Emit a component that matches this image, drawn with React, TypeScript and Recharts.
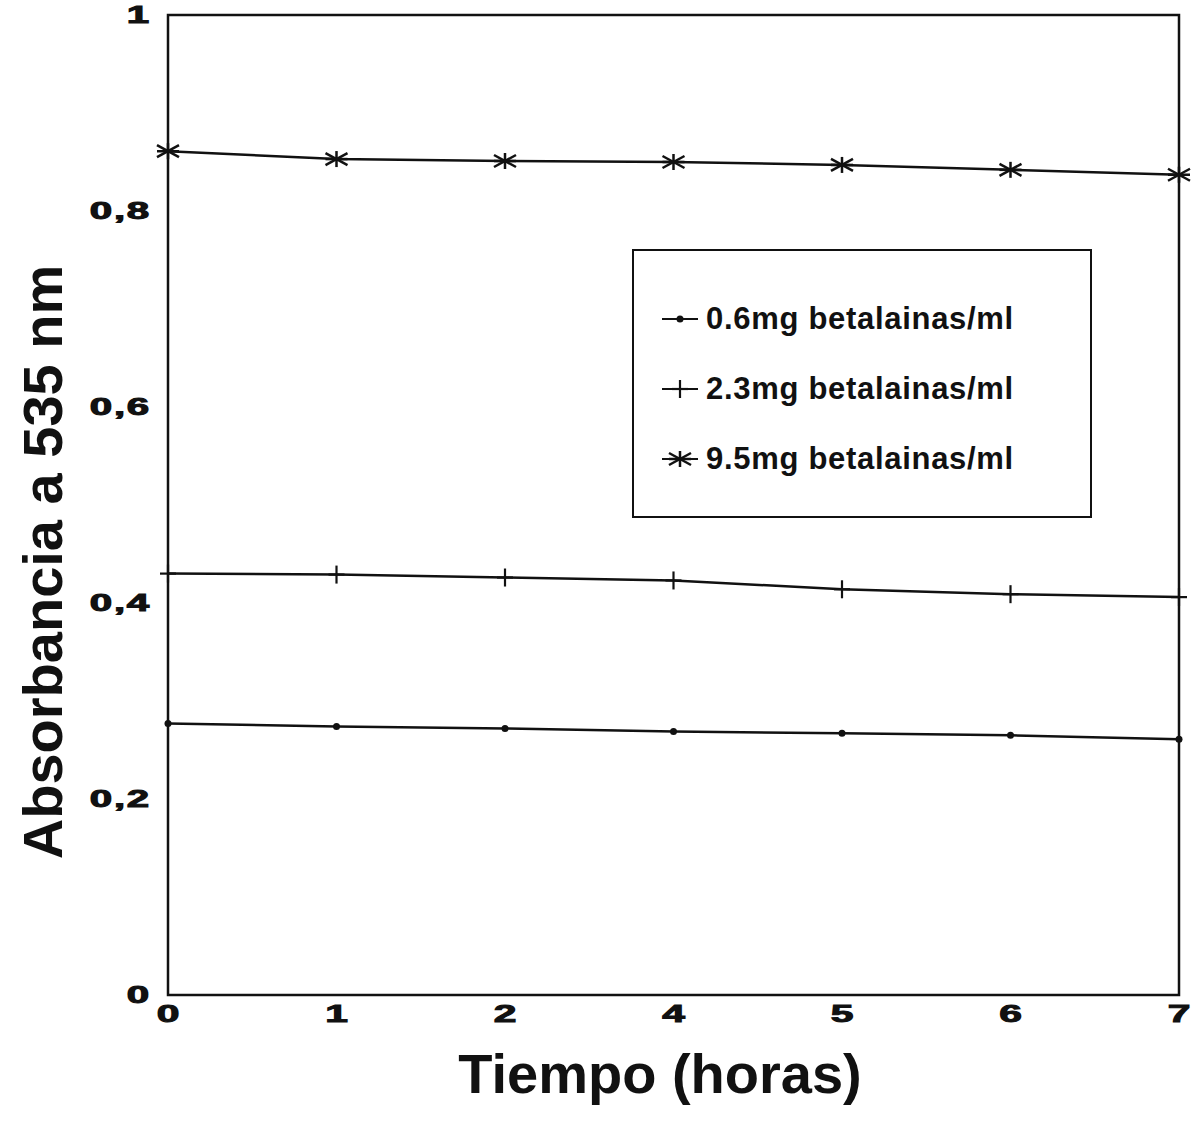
import { LineChart, Line, XAxis, YAxis, ReferenceArea, Legend, Label } from 'recharts';

const tiempos = ['0', '1', '2', '4', '5', '6', '7'];
const serie06 = [0.277, 0.274, 0.272, 0.269, 0.267, 0.265, 0.261];
const serie23 = [0.43, 0.429, 0.426, 0.423, 0.414, 0.409, 0.406];
const serie95 = [0.861, 0.853, 0.851, 0.85, 0.847, 0.842, 0.837];
const yTicks = [0, 0.2, 0.4, 0.6, 0.8, 1];
const nombres = ['0.6mg betalainas/ml', '2.3mg betalainas/ml', '9.5mg betalainas/ml'];

const data = tiempos.map((t, i) => ({ t, a: serie06[i], b: serie23[i], c: serie95[i] }));

const INK = '#111';
const tickFont = { fontFamily: 'Liberation Sans, Arial, sans-serif', fontWeight: 700, fill: INK };

const Punto = ({ cx, cy }: any) => <circle cx={cx} cy={cy} r={3.5} fill={INK} />;

const Cruz = ({ cx, cy }: any) => (
  <g stroke={INK} strokeWidth={2.2}>
    <line x1={cx} y1={cy - 9} x2={cx} y2={cy + 9} />
    <line x1={cx - 8} y1={cy} x2={cx + 8} y2={cy} />
  </g>
);

const Estrella = ({ cx, cy }: any) => (
  <g stroke={INK} strokeWidth={2.5}>
    <line x1={cx} y1={cy - 8} x2={cx} y2={cy + 8} />
    <line x1={cx - 11} y1={cy - 6} x2={cx + 11} y2={cy + 6} />
    <line x1={cx - 11} y1={cy + 6} x2={cx + 11} y2={cy - 6} />
    <line x1={cx - 11} y1={cy} x2={cx + 11} y2={cy} />
  </g>
);

const marcadores = [Punto, Cruz, Estrella];

const YTick = ({ x, y, payload }: any) => (
  <g transform={`translate(${x},${y})`}>
    <text
      transform="scale(1.75,1)"
      textAnchor="end"
      dy="0.36em"
      fontSize={23}
      letterSpacing={1}
      stroke={INK}
      strokeWidth={1}
      {...tickFont}
    >
      {String(payload.value).replace('.', ',')}
    </text>
  </g>
);

const XTick = ({ x, y, payload }: any) => (
  <g transform={`translate(${x},${y})`}>
    <text
      transform="scale(1.7,1)"
      textAnchor="middle"
      dy="0.36em"
      fontSize={24}
      stroke={INK}
      strokeWidth={1}
      {...tickFont}
    >
      {payload.value}
    </text>
  </g>
);

const Leyenda = () => (
  <div
    style={{
      width: 460,
      height: 269,
      boxSizing: 'border-box',
      border: `2px solid ${INK}`,
      background: '#fff',
      paddingTop: 33,
    }}
  >
    {nombres.map((n, i) => {
      const M = marcadores[i];
      return (
        <div key={n} style={{ height: 70, display: 'flex', alignItems: 'center', paddingLeft: 28 }}>
          <svg width={36} height={24} style={{ marginRight: 8 }}>
            <line x1={0} y1={12} x2={36} y2={12} stroke={INK} strokeWidth={2} />
            <M cx={18} cy={12} />
          </svg>
          <span
            style={{
              fontFamily: 'Liberation Sans, Arial, sans-serif',
              fontWeight: 700,
              fontSize: 31,
              letterSpacing: 0.7,
              color: INK,
            }}
          >
            {n}
          </span>
        </div>
      );
    })}
  </div>
);

export default function App() {
  return (
    <div style={{ position: 'absolute', left: 0, top: 0, background: '#fff' }}>
      <LineChart width={1195} height={1133} data={data} margin={{ top: 15, right: 16, bottom: 98, left: 68 }}>
        <XAxis
          dataKey="t"
          axisLine={false}
          tickLine={false}
          tickSize={0}
          tickMargin={18}
          height={40}
          interval={0}
          tick={<XTick />}
        >
          <Label
            content={() => (
              <text x={660} y={1093} textAnchor="middle" fontSize={56} {...tickFont}>
                Tiempo  (horas)
              </text>
            )}
          />
        </XAxis>
        <YAxis
          domain={[0, 1]}
          ticks={yTicks}
          axisLine={false}
          tickLine={false}
          tickSize={0}
          tickMargin={17}
          width={100}
          tick={<YTick />}
        >
          <Label
            content={() => (
              <text
                x={0}
                y={0}
                transform="translate(62,562) rotate(-90)"
                textAnchor="middle"
                fontSize={56}
                {...tickFont}
              >
                Absorbancia a 535 nm
              </text>
            )}
          />
        </YAxis>
        <ReferenceArea x1="0" x2="7" y1={0} y2={1} fill="none" stroke={INK} strokeWidth={2.5} ifOverflow="visible" />
        <Legend
          layout="vertical"
          align="center"
          verticalAlign="middle"
          wrapperStyle={{ left: 632, top: 249, width: 460, height: 269 }}
          content={<Leyenda />}
        />
        <Line dataKey="a" name={nombres[0]} stroke={INK} strokeWidth={2.5} dot={<Punto />} isAnimationActive={false} />
        <Line dataKey="b" name={nombres[1]} stroke={INK} strokeWidth={2.5} dot={<Cruz />} isAnimationActive={false} />
        <Line dataKey="c" name={nombres[2]} stroke={INK} strokeWidth={2.5} dot={<Estrella />} isAnimationActive={false} />
      </LineChart>
    </div>
  );
}
